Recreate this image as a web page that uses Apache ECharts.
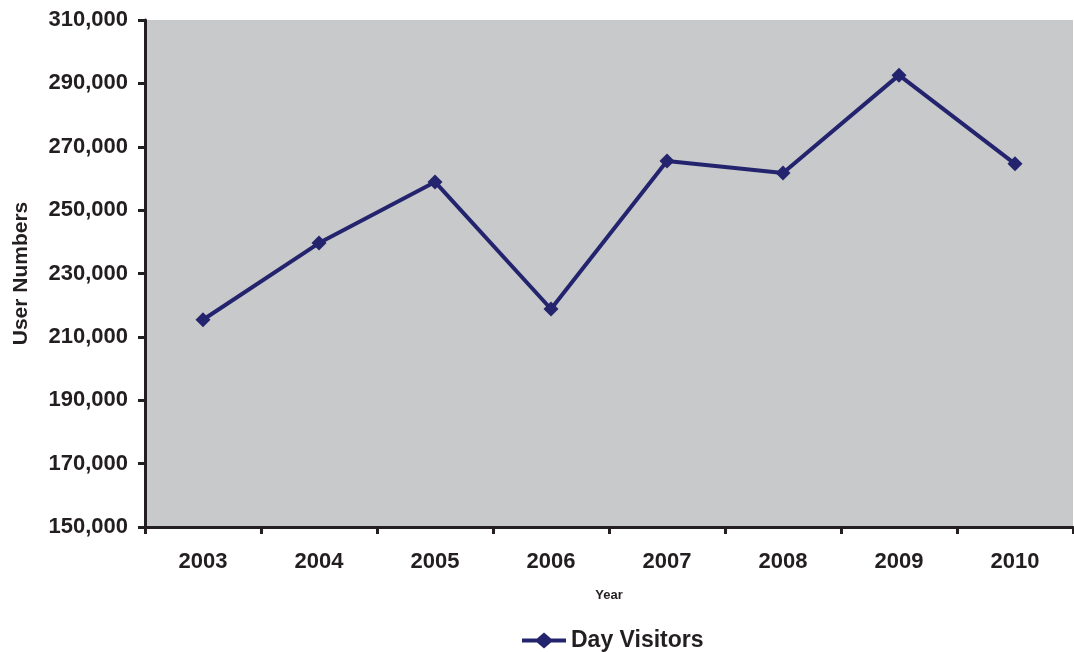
<!DOCTYPE html>
<html>
<head>
<meta charset="utf-8">
<script src="https://cdn.jsdelivr.net/npm/echarts@6/dist/echarts.min.js"></script>
<style>
  html, body { margin: 0; padding: 0; background: #ffffff; }
  #chart { width: 1074px; height: 652px; }
</style>
</head>
<body>
<div id="chart"></div>
<script>
// Annual day visitor counts
const years = ['2003', '2004', '2005', '2006', '2007', '2008', '2009', '2010'];
const dayVisitors = [215400, 239600, 258900, 218800, 265500, 261700, 292600, 264600];
const yTicks = { min: 150000, max: 310000, step: 20000 };

const font = '"Liberation Sans", Arial, sans-serif';
const ink = '#231f20';
const navy = '#24246e';

const chart = echarts.init(document.getElementById('chart'));
chart.setOption({
  animation: false,
  grid: {
    left: 145, right: 1, top: 20, bottom: 125,
    show: true, backgroundColor: '#c8c9cb', borderWidth: 0
  },
  legend: {
    bottom: -5, left: 517,
    itemWidth: 44, itemHeight: 16, itemGap: 4,
    textStyle: { fontFamily: font, fontWeight: 'bold', fontSize: 23, color: ink },
    data: [{ name: 'Day Visitors', icon: 'path://M0,6 L15,6 L22,0 L29,6 L44,6 L44,10 L29,10 L22,16 L15,10 L0,10 Z' }]
  },
  xAxis: {
    type: 'category',
    data: years,
    boundaryGap: true,
    name: 'Year',
    nameLocation: 'middle',
    nameGap: 62,
    nameTextStyle: { fontFamily: font, fontWeight: 'bold', fontSize: 13, color: ink },
    axisLine: { lineStyle: { color: ink, width: 3 } },
    axisTick: { show: true, length: 7, lineStyle: { color: ink, width: 3 } },
    axisLabel: { fontFamily: font, fontWeight: 'bold', fontSize: 22, color: ink, margin: 24 },
    splitLine: { show: false }
  },
  yAxis: {
    type: 'value',
    min: yTicks.min, max: yTicks.max, interval: yTicks.step,
    name: 'User Numbers',
    nameLocation: 'middle',
    nameGap: 113,
    nameRotate: 90,
    nameTextStyle: { fontFamily: font, fontWeight: 'bold', fontSize: 21, color: ink },
    axisLine: { show: true, lineStyle: { color: ink, width: 3 } },
    axisTick: { show: true, length: 7, lineStyle: { color: ink, width: 3 } },
    axisLabel: {
      fontFamily: font, fontWeight: 'bold', fontSize: 22, color: ink, margin: 17,
      formatter: v => v.toLocaleString('en-US')
    },
    splitLine: { show: false }
  },
  series: [{
    name: 'Day Visitors',
    type: 'line',
    data: dayVisitors,
    symbol: 'diamond',
    symbolSize: 15,
    lineStyle: { color: navy, width: 4 },
    itemStyle: { color: navy },
    z: 3
  }]
});
</script>
</body>
</html>
